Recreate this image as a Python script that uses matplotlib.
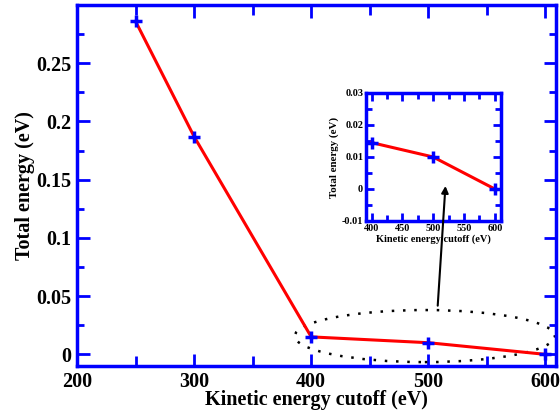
import matplotlib
matplotlib.use("Agg")
import matplotlib.pyplot as plt
from matplotlib.patches import Ellipse
from matplotlib.ticker import MultipleLocator

cutoff = [250, 300, 400, 500, 600]
energy = [0.286, 0.187, 0.015, 0.010, 0.0]
inset_cutoff = [400, 500, 600]
inset_energy = [0.0145, 0.010, 0.0]

plt.rcParams['font.family'] = ['Liberation Serif', 'DejaVu Serif']
plt.rcParams['font.weight'] = 'bold'

fig = plt.figure(figsize=(5.6, 4.12), dpi=100)
W, H = 560, 412
ax = fig.add_axes([77 / W, 1 - 366 / H, (556 - 77) / W, (366 - 5) / H])

blue = '#0000ff'
ax.plot(cutoff, energy, color='red', lw=2.2, zorder=3)
ax.plot(cutoff, energy, ls='none', marker='+', ms=9, mew=2.5, color=blue, zorder=4)
ax.set_xlim(200, 609)
ax.set_ylim(-0.01, 0.3)
ax.xaxis.set_major_locator(MultipleLocator(100))
ax.xaxis.set_minor_locator(MultipleLocator(50))
ax.yaxis.set_minor_locator(MultipleLocator(0.025))
ax.set_yticks([0, 0.05, 0.1, 0.15, 0.2, 0.25])
ax.set_yticklabels(['0', '0.05', '0.1', '0.15', '0.2', '0.25'])
for s in ax.spines.values():
    s.set_color(blue)
    s.set_linewidth(2.5)
ax.tick_params(which='both', direction='in', color=blue, width=2, top=True, right=True,
               labelsize=14.5)
ax.tick_params(axis='y', pad=4)
ax.tick_params(axis='x', pad=4)
ax.tick_params(which='major', length=9)
ax.tick_params(which='minor', length=5)
ax.tick_params(axis='x', which='minor', length=7)
ax.set_xlabel('Kinetic energy cutoff (eV)', fontsize=14.5, fontweight='bold', labelpad=-1)
ax.set_ylabel('Total energy (eV)', fontsize=14.5, fontweight='bold', labelpad=1)

ell = Ellipse((497, 0.0157), 222, 0.0447, fill=False, ls=(0, (1, 3.5)), lw=1.8,
              color='black', zorder=2, clip_on=False)
ax.add_patch(ell)

ins = fig.add_axes([366 / W, 1 - 221 / H, (501 - 366) / W, (221 - 93) / H])
ins.plot(inset_cutoff, inset_energy, color='red', lw=2.2, zorder=3)
ins.plot(inset_cutoff, inset_energy, ls='none', marker='+', ms=9, mew=2.5, color=blue, zorder=4)
ins.set_xlim(391, 610)
ins.set_ylim(-0.01, 0.03)
ins.xaxis.set_major_locator(MultipleLocator(50))
ins.xaxis.set_minor_locator(MultipleLocator(25))
ins.set_yticks([-0.01, 0, 0.01, 0.02, 0.03])
ins.set_yticklabels(['-0.01', '0', '0.01', '0.02', '0.03'])
ins.yaxis.set_minor_locator(MultipleLocator(0.005))
for s in ins.spines.values():
    s.set_color(blue)
    s.set_linewidth(2.5)
ins.tick_params(which='both', direction='in', color=blue, width=2, top=True, right=True,
                labelsize=7.3, pad=2)
ins.tick_params(which='major', length=6)
ins.tick_params(which='minor', length=4)
ins.set_xlabel('Kinetic energy cutoff (eV)', fontsize=7.5, fontweight='bold', labelpad=1)
ins.set_ylabel('Total energy (eV)', fontsize=7.8, fontweight='bold', labelpad=2)

arr = ins.annotate('', xy=(514.6, 0.1446), xytext=(508, 0.0418),
                   xycoords=ax.transData, textcoords=ax.transData,
                   annotation_clip=False,
                   arrowprops=dict(arrowstyle='-|>', color='black', lw=1.5,
                                   mutation_scale=10, shrinkA=0, shrinkB=0))
arr.set_zorder(10)

fig.savefig('out.png', dpi=100)
